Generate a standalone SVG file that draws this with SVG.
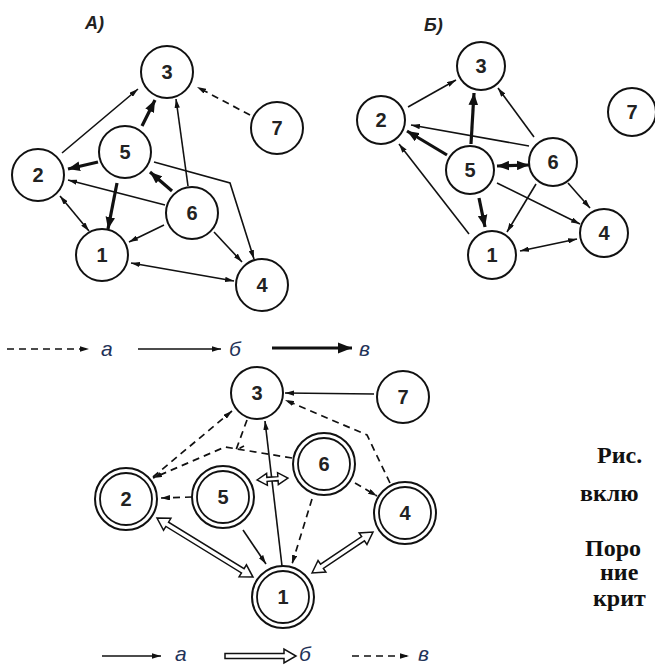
<svg xmlns="http://www.w3.org/2000/svg" width="655" height="666" viewBox="0 0 655 666">
  <style>
    .node { fill: #fff; stroke: #111; stroke-width: 2; }
    .node2 { fill: none; stroke: #111; stroke-width: 1.8; }
    .num { font-family: "Liberation Sans", Arial, sans-serif; font-weight: bold; font-size: 20px; fill: #222; text-anchor: middle; }
    .cap { font-family: "Liberation Sans", Arial, sans-serif; font-weight: bold; font-style: italic; font-size: 18px; fill: #222; }
    .leg { font-family: "Liberation Sans", Arial, sans-serif; font-style: italic; font-size: 21px; fill: #1f3358; }
    .note { font-family: "Liberation Serif", "Times New Roman", serif; font-weight: bold; font-size: 24px; fill: #111; }
    .thin { fill: none; stroke: #111; stroke-width: 1.6; }
    .thick { fill: none; stroke: #111; stroke-width: 3.2; }
    .dash { fill: none; stroke: #111; stroke-width: 1.7; stroke-dasharray: 7 5; }
    .hollow { fill: #fff; stroke: #111; stroke-width: 1.5; stroke-linejoin: miter; }
  </style>
  <defs>
    <marker id="ah" viewBox="0 0 10 6" refX="10" refY="3" markerWidth="9" markerHeight="5.4" markerUnits="userSpaceOnUse" orient="auto-start-reverse">
      <path d="M0,0 L10,3 L0,6 z" fill="#111"/>
    </marker>
    <marker id="ahb" viewBox="0 0 10 8" refX="10" refY="4" markerWidth="12" markerHeight="10" markerUnits="userSpaceOnUse" orient="auto-start-reverse">
      <path d="M0,0 L10,4 L0,8 z" fill="#111"/>
    </marker>
    <marker id="ahx" viewBox="0 0 10 8" refX="10" refY="4" markerWidth="14" markerHeight="12" markerUnits="userSpaceOnUse" orient="auto">
      <path d="M0,0 L10,4 L0,8 z" fill="#111"/>
    </marker>
  </defs>

  <!-- captions -->
  <text class="cap" x="85" y="29">А)</text>
  <text class="cap" x="424" y="31">Б)</text>

  <!-- connectors -->
  <g id="connectors">
    <!-- panel A -->
    <line class="dash" x1="250" y1="115" x2="197" y2="87" marker-end="url(#ah)"/>
    <line class="thin" x1="62" y1="153" x2="138" y2="89" marker-end="url(#ah)"/>
    <line class="thick" x1="142" y1="126" x2="155" y2="100" marker-end="url(#ahb)"/>
    <line class="thick" x1="98" y1="162" x2="68" y2="169" marker-end="url(#ahb)"/>
    <line class="thick" x1="117" y1="183" x2="108" y2="229" marker-end="url(#ahb)"/>
    <polyline class="thin" points="154,162 230,183 254,259" marker-end="url(#ah)"/>
    <line class="thin" x1="188" y1="186" x2="176" y2="99" marker-end="url(#ah)"/>
    <line class="thick" x1="172" y1="191" x2="150" y2="172" marker-end="url(#ahb)"/>
    <line class="thin" x1="165" y1="205" x2="68" y2="180" marker-end="url(#ah)"/>
    <line class="thin" x1="164" y1="225" x2="129" y2="242" marker-end="url(#ah)"/>
    <line class="thin" x1="214" y1="232" x2="242" y2="262" marker-end="url(#ah)"/>
    <line class="thin" x1="60" y1="196" x2="89" y2="231" marker-start="url(#ah)" marker-end="url(#ah)"/>
    <line class="thin" x1="131" y1="263" x2="234" y2="281" marker-start="url(#ah)" marker-end="url(#ah)"/>

    <!-- panel B -->
    <line class="thin" x1="408" y1="107" x2="456" y2="80" marker-end="url(#ah)"/>
    <line class="thick" x1="471" y1="144" x2="474" y2="93" marker-end="url(#ahb)"/>
    <line class="thick" x1="447" y1="155" x2="407" y2="131" marker-end="url(#ahb)"/>
    <line class="thick" x1="497" y1="166" x2="529" y2="165" marker-start="url(#ahb)" marker-end="url(#ahb)"/>
    <line class="thick" x1="479" y1="198" x2="485" y2="227" marker-end="url(#ahb)"/>
    <line class="thin" x1="497" y1="183" x2="580" y2="224" marker-end="url(#ah)"/>
    <line class="thin" x1="534" y1="137" x2="498" y2="88" marker-end="url(#ah)"/>
    <line class="thin" x1="529" y1="146" x2="411" y2="125" marker-end="url(#ah)"/>
    <line class="thin" x1="536" y1="184" x2="507" y2="232" marker-end="url(#ah)"/>
    <line class="thin" x1="568" y1="183" x2="590" y2="208" marker-end="url(#ah)"/>
    <line class="thin" x1="469" y1="234" x2="399" y2="144" marker-end="url(#ah)"/>
    <line class="thin" x1="520" y1="251" x2="577" y2="239" marker-start="url(#ah)" marker-end="url(#ah)"/>

    <!-- legend, upper -->
    <line class="dash" x1="7" y1="349" x2="89" y2="349" stroke-dasharray="10 7" marker-end="url(#ah)"/>
    <line class="thin" x1="138" y1="349" x2="221" y2="349" marker-end="url(#ah)"/>
    <line class="thick" x1="272" y1="348" x2="352" y2="348" stroke-width="4.5" marker-end="url(#ahx)"/>

    <!-- lower graph -->
    <line class="thin" x1="374" y1="394" x2="285" y2="393" marker-end="url(#ah)"/>
    <polyline class="dash" points="390,483 367,435 285,400" marker-end="url(#ah)"/>
    <line class="dash" x1="153" y1="477" x2="232" y2="411" marker-end="url(#ah)"/>
    <polyline class="dash" points="292,458 225,447 153,478" marker-end="url(#ah)"/>
    <polyline class="dash" points="247,420 236,450 244,446"/>
    <line class="dash" x1="192" y1="497" x2="161" y2="498" marker-end="url(#ah)"/>
    <line class="thin" x1="282" y1="566" x2="265" y2="421" marker-end="url(#ah)"/>
    <line class="thin" x1="243" y1="530" x2="266" y2="564" marker-end="url(#ah)"/>
    <line class="dash" x1="312" y1="499" x2="292" y2="564" marker-end="url(#ah)"/>
    <line class="dash" x1="355" y1="483" x2="377" y2="496" marker-end="url(#ah)"/>

    <!-- hollow two-way arrows -->
    <path class="hollow" transform="translate(157,518) rotate(31.6)" d="M0,0 L12,-7 L12,-2.5 L100.7,-2.5 L100.7,-7 L112.7,0 L100.7,7 L100.7,2.5 L12,2.5 L12,7 Z"/>
    <path class="hollow" transform="translate(312,573) rotate(-33.9)" d="M0,0 L12,-7 L12,-2.5 L61.5,-2.5 L61.5,-7 L73.5,0 L61.5,7 L61.5,2.5 L12,2.5 L12,7 Z"/>
    <path class="hollow" transform="translate(257,480) rotate(-3.7)" d="M0,0 L10,-6 L10,-2 L21,-2 L21,-6 L31,0 L21,6 L21,2 L10,2 L10,6 Z"/>

    <!-- legend, lower -->
    <line class="thin" x1="102" y1="656" x2="161" y2="656" marker-end="url(#ah)"/>
    <path class="hollow" d="M225,653.5 L284,653.5 L284,649 L296,656 L284,663 L284,658.5 L225,658.5 Z"/>
    <line class="dash" x1="352" y1="656" x2="409" y2="656" stroke-dasharray="7 6" marker-end="url(#ah)"/>
  </g>

  <!-- panel A nodes -->
  <g id="a3"><circle class="node" cx="167" cy="72" r="26"/><text class="num" x="167" y="79">3</text></g>
  <g id="a7"><circle class="node" cx="277" cy="128" r="26"/><text class="num" x="277" y="135">7</text></g>
  <g id="a5"><circle class="node" cx="125" cy="152" r="26"/><text class="num" x="125" y="159">5</text></g>
  <g id="a2"><circle class="node" cx="38" cy="175" r="26"/><text class="num" x="38" y="182">2</text></g>
  <g id="a6"><circle class="node" cx="192" cy="213" r="26"/><text class="num" x="192" y="220">6</text></g>
  <g id="a1"><circle class="node" cx="102" cy="255" r="26"/><text class="num" x="102" y="262">1</text></g>
  <g id="a4"><circle class="node" cx="262" cy="285" r="26"/><text class="num" x="262" y="292">4</text></g>

  <!-- panel B nodes -->
  <g id="b3"><circle class="node" cx="481" cy="66" r="24"/><text class="num" x="481" y="73">3</text></g>
  <g id="b2"><circle class="node" cx="381" cy="120" r="24"/><text class="num" x="381" y="127">2</text></g>
  <g id="b7"><circle class="node" cx="632" cy="112" r="24"/><text class="num" x="632" y="119">7</text></g>
  <g id="b5"><circle class="node" cx="470" cy="170" r="24"/><text class="num" x="470" y="177">5</text></g>
  <g id="b6"><circle class="node" cx="553" cy="162" r="24"/><text class="num" x="553" y="169">6</text></g>
  <g id="b4"><circle class="node" cx="604" cy="233" r="24"/><text class="num" x="604" y="240">4</text></g>
  <g id="b1"><circle class="node" cx="492" cy="255" r="24"/><text class="num" x="492" y="262">1</text></g>

  <!-- lower graph nodes -->
  <g id="c3"><circle class="node" cx="257" cy="393" r="26"/><text class="num" x="257" y="400">3</text></g>
  <g id="c7"><circle class="node" cx="403" cy="397" r="26"/><text class="num" x="403" y="404">7</text></g>
  <g id="c6"><circle class="node" cx="324" cy="464" r="31"/><circle class="node2" cx="324" cy="464" r="26"/><text class="num" x="324" y="471">6</text></g>
  <g id="c5"><circle class="node" cx="223" cy="497" r="31"/><circle class="node2" cx="223" cy="497" r="26"/><text class="num" x="223" y="504">5</text></g>
  <g id="c2"><circle class="node" cx="126" cy="499" r="31"/><circle class="node2" cx="126" cy="499" r="26"/><text class="num" x="126" y="506">2</text></g>
  <g id="c4"><circle class="node" cx="405" cy="513" r="31"/><circle class="node2" cx="405" cy="513" r="26"/><text class="num" x="405" y="520">4</text></g>
  <g id="c1"><circle class="node" cx="283" cy="597" r="31"/><circle class="node2" cx="283" cy="597" r="26"/><text class="num" x="283" y="604">1</text></g>

  <!-- legend labels -->
  <text class="leg" x="101" y="356">а</text>
  <text class="leg" x="229" y="356">б</text>
  <text class="leg" x="359" y="356">в</text>
  <text class="leg" x="175" y="661" font-size="20">а</text>
  <text class="leg" x="299" y="661" font-size="20">б</text>
  <text class="leg" x="418" y="661" font-size="20">в</text>

  <!-- side caption -->
  <text class="note" x="597" y="463">Рис.</text>
  <text class="note" x="580" y="501">вклю</text>
  <text class="note" x="585" y="556">Поро</text>
  <text class="note" x="600" y="580">ние</text>
  <text class="note" x="593" y="606">крит</text>
</svg>
